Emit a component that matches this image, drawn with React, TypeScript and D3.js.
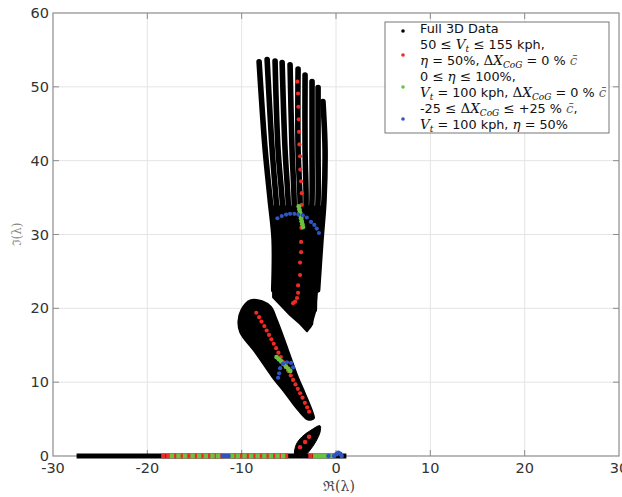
import React from 'react';
import * as d3 from 'd3';

const W = 622;
const H = 497;

const xTicks = [-30, -20, -10, 0, 10, 20, 30];
const yTicks = [0, 10, 20, 30, 40, 50, 60];

// Full 3D data: fan branches of the upper lobe (read as polylines)
const fanBranches: [number, number][][] = [
  [[-8.15, 53.4], [-7.51, 41.5], [-6.98, 34.7], [-6.56, 29.3], [-6.6, 22.5]],
  [[-7.3, 53.7], [-6.77, 41.5], [-6.35, 34.7], [-6.03, 29.3], [-5.9, 21.0]],
  [[-6.46, 53.5], [-6.14, 41.5], [-5.71, 34.7], [-5.5, 29.3], [-5.3, 20.3]],
  [[-5.71, 53.3], [-5.4, 41.5], [-5.08, 34.7], [-4.97, 29.3], [-4.7, 19.6]],
  [[-4.87, 53.0], [-4.66, 41.5], [-4.44, 34.7], [-4.44, 29.3], [-4.1, 18.8]],
  [[-4.02, 52.4], [-4.02, 41.5], [-3.81, 34.7], [-3.81, 29.3], [-3.6, 18.1]],
  [[-3.28, 51.6], [-3.28, 41.5], [-3.17, 34.7], [-3.28, 29.3], [-3.1, 17.4]],
  [[-2.54, 50.7], [-2.54, 41.5], [-2.54, 34.7], [-2.75, 29.3], [-2.7, 18.0]],
  [[-1.9, 49.9], [-1.9, 41.5], [-1.9, 34.7], [-2.12, 29.3], [-2.3, 19.8]],
  [[-1.38, 48.0], [-1.16, 41.5], [-1.27, 34.7], [-1.59, 29.3], [-1.95, 22.5]],
];

// Full 3D data: merged lower part of the upper lobe (outline)
const upperBand: [number, number][] = [
  [-6.8, 33.8], [-6.5, 32.4], [-6.3, 27.9], [-6.3, 24.9], [-6.67, 24.1],
  [-6.67, 21.5], [-5.93, 20.5], [-4.87, 19.1], [-3.81, 17.9], [-3.07, 16.9],
  [-2.65, 17.6], [-2.22, 19.5], [-2.01, 22.5], [-1.69, 26.6], [-1.48, 30.6],
  [-1.3, 33.8],
];

// Full 3D data: lower lobe outline
const lowerLobe: [number, number][] = [
  [-9.1, 21.1], [-7.83, 21.0], [-6.88, 20.2], [-6.24, 18.4], [-5.08, 14.4],
  [-4.02, 10.7], [-3.28, 8.5], [-2.43, 5.8], [-2.33, 5.1], [-2.96, 4.9],
  [-4.02, 6.2], [-5.4, 8.5], [-6.77, 10.7], [-8.57, 14.0], [-10.16, 16.7],
  [-10.37, 18.2], [-10.05, 19.8],
];

// Full 3D data: small lobe near the real axis
const smallLobe: [number, number][] = [
  [-4.34, 0], [-4.23, 1.5], [-3.6, 2.6], [-2.65, 3.5], [-1.69, 4.1],
  [-1.69, 3.25], [-2.12, 2.0], [-2.75, 0.8], [-3.39, 0],
];

// Full 3D data: real-axis roots (extent)
const realAxisBlack: [number, number][] = [[-27.5, 0], [1.1, 0]];

// Velocity sweep (red)
const redUpper: [number, number][] = [
  [-4.1, 50.7], [-4.02, 49.1], [-3.99, 47.3], [-3.95, 45.6], [-3.92, 43.9],
  [-3.88, 42.2], [-3.81, 40.6], [-3.78, 38.8], [-3.7, 37.2], [-3.63, 35.6],
  [-3.63, 34.0], [-3.65, 32.4], [-3.67, 30.9], [-3.7, 29.0], [-3.7, 27.6],
  [-3.81, 26.2], [-3.81, 24.5], [-4.02, 23.1], [-4.02, 22.1], [-4.13, 21.4],
  [-4.34, 20.9], [-4.55, 20.7],
];
const redLower: [number, number][] = [
  [-8.45, 19.4], [-8.15, 18.8], [-7.9, 18.2], [-7.6, 17.6], [-7.35, 17.0],
  [-7.1, 16.4], [-6.85, 15.8], [-6.6, 15.2], [-6.35, 14.6], [-6.1, 14.0],
  [-5.85, 13.4], [-5.55, 12.7], [-5.3, 12.1], [-5.05, 11.5], [-4.8, 10.9],
  [-4.55, 10.3], [-4.3, 9.7], [-4.05, 9.1], [-3.8, 8.5], [-3.55, 7.9],
  [-3.3, 7.2], [-3.05, 6.6], [-2.85, 6.0],
];
const redSmall: [number, number][] = [[-2.86, 2.6], [-3.28, 1.9], [-3.81, 1.2]];
const redAxis = [
  -18.3, -17.8, -17.0, -16.3, -15.6, -14.9, -14.2, -13.5, -12.8, -12.2,
  -10.8, -10.1, -9.4, -8.7, -8.0, -7.3, -6.6, -5.9, -5.3, -2.7,
];

// Elevator sweep (green)
const greenUpper: [number, number][] = [
  [-3.95, 33.8], [-3.88, 33.4], [-3.82, 33.0], [-3.76, 32.6], [-3.7, 32.2],
  [-3.64, 31.8], [-3.57, 31.4], [-3.5, 31.0],
];
const greenLower: [number, number][] = [
  [-6.3, 13.4], [-6.05, 13.1], [-5.8, 12.8], [-5.55, 12.45], [-5.3, 12.1],
  [-5.05, 11.8], [-4.85, 11.5],
];
const greenAxis = [
  -17.4, -16.7, -16.0, -15.2, -14.5, -13.8, -13.1, -12.5, -11.0, -10.4,
  -9.7, -9.0, -8.3, -7.6, -6.9, -6.2, -5.6, -2.2, -1.9, -1.6, -1.3, -1.0, -0.5,
];

// CoG sweep (blue)
const blueUpper: [number, number][] = [
  [-6.21, 32.2], [-5.75, 32.5], [-5.29, 32.7], [-4.87, 32.8], [-4.41, 32.8],
  [-3.99, 32.7], [-3.52, 32.6], [-3.1, 32.3], [-2.65, 31.7], [-2.3, 31.3],
  [-2.04, 30.8], [-1.8, 30.2],
];
const blueLower: [number, number][] = [
  [-6.14, 10.6], [-6.03, 11.2], [-5.93, 11.9], [-5.61, 12.5], [-5.19, 12.7],
  [-4.76, 12.6], [-4.55, 12.0],
];
const blueAxis: [number, number][] = [
  [-12.0, 0], [-11.7, 0], [-11.4, 0], [-0.8, 0], [-0.2, 0], [0.05, 0.25],
  [0.25, 0.45], [0.45, 0.3], [0.6, 0],
];

const RED = '#ee2b24';
const GREEN = '#6cc13f';
const BLUE = '#2f55c4';

type Seg = { t: string; f?: 's' | 'm' | 'i'; sub?: boolean; c?: string };
const legendLines: Seg[][] = [
  [{ t: 'Full 3D Data' }],
  [{ t: '50 ' }, { t: '≤', f: 'm' }, { t: ' ' }, { t: 'V', f: 'i' }, { t: 't', f: 'i', sub: true }, { t: ' ' }, { t: '≤', f: 'm' }, { t: ' 155 kph,' }],
  [{ t: 'η', f: 'i' }, { t: ' = 50%, ' }, { t: 'Δ', f: 'm' }, { t: 'X', f: 'i' }, { t: 'CoG', f: 'i', sub: true }, { t: ' = 0 % ' }, { t: 'c̄', f: 'i', c: '#666' }],
  [{ t: '0 ' }, { t: '≤', f: 'm' }, { t: ' ' }, { t: 'η', f: 'i' }, { t: ' ' }, { t: '≤', f: 'm' }, { t: ' 100%,' }],
  [{ t: 'V', f: 'i' }, { t: 't', f: 'i', sub: true }, { t: ' = 100 kph, ' }, { t: 'Δ', f: 'm' }, { t: 'X', f: 'i' }, { t: 'CoG', f: 'i', sub: true }, { t: ' = 0 % ' }, { t: 'c̄', f: 'i', c: '#666' }],
  [{ t: '-25 ' }, { t: '≤', f: 'm' }, { t: ' ' }, { t: 'Δ', f: 'm' }, { t: 'X', f: 'i' }, { t: 'CoG', f: 'i', sub: true }, { t: ' ' }, { t: '≤', f: 'm' }, { t: ' +25 % ' }, { t: 'c̄', f: 'i', c: '#666' }, { t: ',' }],
  [{ t: 'V', f: 'i' }, { t: 't', f: 'i', sub: true }, { t: ' = 100 kph, ' }, { t: 'η', f: 'i' }, { t: ' = 50%' }],
];
const legendMarkers = [
  { color: '#000', rows: [0] },
  { color: RED, rows: [1, 2] },
  { color: GREEN, rows: [3, 4] },
  { color: BLUE, rows: [5, 6] },
];

const SANS = '"DejaVu Sans", Verdana, sans-serif';
const SERIF = '"DejaVu Serif", "Liberation Serif", serif';

export default function App() {
  const x = d3.scaleLinear().domain([-30, 30]).range([53, 619]);
  const y = d3.scaleLinear().domain([0, 60]).range([456, 13]);
  const [x0, x1] = x.range();
  const [y0, y1] = y.range();

  const branchLine = d3
    .line<[number, number]>()
    .x((d) => x(d[0]))
    .y((d) => y(d[1]))
    .curve(d3.curveCatmullRom.alpha(0.5));
  const closedLine = d3
    .line<[number, number]>()
    .x((d) => x(d[0]))
    .y((d) => y(d[1]))
    .curve(d3.curveCatmullRomClosed.alpha(0.5));
  const linearClosed = d3
    .line<[number, number]>()
    .x((d) => x(d[0]))
    .y((d) => y(d[1]))
    .curve(d3.curveLinearClosed);
  const straight = d3
    .line<[number, number]>()
    .x((d) => x(d[0]))
    .y((d) => y(d[1]));

  const rowY = (i: number) => 28 + 16 * i;

  const renderSegs = (segs: Seg[]) => {
    let shift = 0;
    return segs.map((s, k) => {
      const target = s.sub ? 3 : 0;
      const dy = target - shift;
      shift = target;
      const fam = s.f === 'i' || s.f === 'm' ? SERIF : SANS;
      return (
        <tspan
          key={k}
          dy={dy || undefined}
          fontFamily={fam}
          fontStyle={s.f === 'i' ? 'italic' : 'normal'}
          fontSize={s.sub ? 9 : s.f === 'i' || s.f === 'm' ? 13.5 : 12.8}
          fill={s.c || '#111'}
        >
          {s.t}
        </tspan>
      );
    });
  };

  const dots = (pts: [number, number][], color: string, r: number, key: string) =>
    pts.map((d, i) => <circle key={key + i} cx={x(d[0])} cy={y(d[1])} r={r} fill={color} />);

  return (
    <svg
      width={W}
      height={H}
      style={{ position: 'absolute', left: 0, top: 0, background: '#fff' }}
      xmlns="http://www.w3.org/2000/svg"
    >
      <rect x={0} y={0} width={W} height={H} fill="#fff" />
      {/* grid */}
      {xTicks.slice(1, -1).map((t) => (
        <line key={'gx' + t} x1={x(t)} x2={x(t)} y1={y0} y2={y1} stroke="#e4e4e4" strokeWidth={1} />
      ))}
      {yTicks.slice(1, -1).map((t) => (
        <line key={'gy' + t} x1={x0} x2={x1} y1={y(t)} y2={y(t)} stroke="#e4e4e4" strokeWidth={1} />
      ))}
      {/* box */}
      <rect x={x0} y={y1} width={x1 - x0} height={y0 - y1} fill="none" stroke="#8c8c8c" strokeWidth={1.2} />
      {xTicks.slice(1, -1).map((t) => (
        <g key={'tx' + t}>
          <line x1={x(t)} x2={x(t)} y1={y0} y2={y0 - 6} stroke="#8c8c8c" />
          <line x1={x(t)} x2={x(t)} y1={y1} y2={y1 + 6} stroke="#8c8c8c" />
        </g>
      ))}
      {yTicks.slice(1, -1).map((t) => (
        <g key={'ty' + t}>
          <line x1={x0} x2={x0 + 6} y1={y(t)} y2={y(t)} stroke="#8c8c8c" />
          <line x1={x1} x2={x1 - 6} y1={y(t)} y2={y(t)} stroke="#8c8c8c" />
        </g>
      ))}
      {/* tick labels */}
      {xTicks.map((t) => (
        <text key={'lx' + t} x={x(t)} y={y0 + 17} textAnchor="middle" fontFamily={SANS} fontSize={14.5} fill="#333">
          {t < 0 ? '-' + Math.abs(t) : String(t)}
        </text>
      ))}
      {yTicks.map((t) => (
        <text key={'ly' + t} x={x0 - 4} y={y(t) + 5} textAnchor="end" fontFamily={SANS} fontSize={14.5} fill="#333">
          {t}
        </text>
      ))}
      {/* axis labels */}
      <text x={x(0) + 3} y={491} textAnchor="middle" fontFamily={SERIF} fontSize={14} fill="#444">
        ℜ(λ)
      </text>
      <text
        transform={`translate(21,${y(30)}) rotate(-90)`}
        textAnchor="middle"
        fontFamily={SERIF}
        fontSize={12}
        fill="#888"
      >
        ℑ(λ)
      </text>

      {/* full 3D data */}
      <g>
        {fanBranches.map((b, i) => (
          <path key={'fb' + i} d={branchLine(b) || ''} fill="none" stroke="#000" strokeWidth={5.6} strokeLinecap="round" />
        ))}
        <path d={linearClosed(upperBand) || ''} fill="#000" stroke="#000" strokeWidth={2} strokeLinejoin="round" />
        <path d={closedLine(lowerLobe) || ''} fill="#000" stroke="#000" strokeWidth={1.5} />
        <path d={closedLine(smallLobe) || ''} fill="#000" stroke="#000" strokeWidth={1} />
        <path d={straight(realAxisBlack) || ''} stroke="#000" strokeWidth={5} fill="none" />
      </g>
      {/* red */}
      <g>
        {dots(redUpper, RED, 2.1, 'ru')}
        {dots(redLower, RED, 2.1, 'rl')}
        {dots(redSmall, RED, 2.2, 'rs')}
        {redAxis.map((v, i) => (
          <rect key={'ra' + i} x={x(v) - 2.2} y={y(0) - 2.3} width={4.4} height={4.6} fill={RED} />
        ))}
      </g>
      {/* green */}
      <g>
        {dots(greenUpper, GREEN, 2.4, 'gu')}
        {dots(greenLower, GREEN, 2.4, 'gl')}
        {greenAxis.map((v, i) => (
          <rect key={'ga' + i} x={x(v) - 2.2} y={y(0) - 2.3} width={4.4} height={4.6} fill={GREEN} />
        ))}
      </g>
      {/* blue */}
      <g>
        {dots(blueUpper, BLUE, 2.1, 'bu')}
        {dots(blueLower, BLUE, 2.1, 'bl')}
        {dots(blueAxis, BLUE, 2.3, 'ba')}
      </g>

      {/* legend */}
      <g>
        <rect x={385} y={22} width={224} height={111} fill="#fff" stroke="#777" strokeWidth={1} />
        {legendMarkers.map((m, i) => {
          const cy = d3.mean(m.rows.map(rowY)) as number;
          return <circle key={'lm' + i} cx={403} cy={cy + 3} r={1.8} fill={m.color} />;
        })}
        {legendLines.map((segs, i) => (
          <text key={'ll' + i} x={420} y={rowY(i) + 4.5}>
            {renderSegs(segs)}
          </text>
        ))}
      </g>
    </svg>
  );
}
